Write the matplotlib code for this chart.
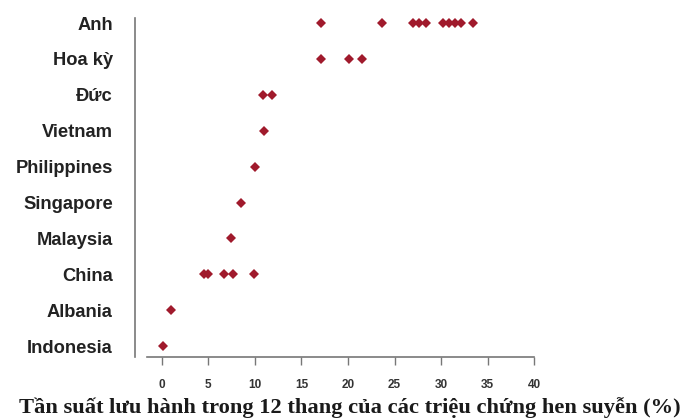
import matplotlib
matplotlib.use("Agg")
import matplotlib.pyplot as plt

countries = ["Anh", "Hoa kỳ", "Đức", "Vietnam", "Philippines", "Singapore",
             "Malaysia", "China", "Albania", "Indonesia"]
values = [
    [17.1, 23.7, 27.0, 27.6, 28.4, 30.2, 30.8, 31.5, 32.1, 33.4],  # Anh
    [17.1, 20.1, 21.5],                                            # Hoa kỳ
    [10.9, 11.9],                                                  # Đức
    [11.0],                                                        # Vietnam
    [10.0],                                                        # Philippines
    [8.5],                                                         # Singapore
    [7.5],                                                         # Malaysia
    [4.6, 5.0, 6.7, 7.7, 9.9],                                     # China
    [1.0],                                                         # Albania
    [0.2],                                                         # Indonesia
]
xticks = [0, 5, 10, 15, 20, 25, 30, 35, 40]
xlabel = "Tần suất lưu hành trong 12 thang của các triệu chứng hen suyễn (%)"

fig = plt.figure(figsize=(6.83, 4.19), dpi=100)
ax = fig.add_axes([135/683, 1-357/419, 405/683, (357-18)/419])

for i, vals in enumerate(values):
    ax.plot(vals, [i]*len(vals), linestyle="none", marker="D", markersize=5.6,
            color="#A01A2C", markeredgewidth=0)

ax.set_xlim(-2.85, 40.6)
ax.set_ylim(9.30, -0.14)
ax.set_yticks(range(len(countries)))
ax.set_yticklabels(countries, fontsize=13.2, fontweight="bold",
                   family="Liberation Sans", color="#222222")
ax.set_xticks(xticks)
ax.set_xticklabels([str(t) for t in xticks], fontsize=8.5, fontweight="bold",
                   family="Liberation Sans", color="#333333")

for s in ["top", "right"]:
    ax.spines[s].set_visible(False)
ax.spines["left"].set_color("#777777")
ax.spines["left"].set_linewidth(1.2)
ax.spines["bottom"].set_color("#777777")
ax.spines["bottom"].set_linewidth(1.2)
ax.spines["bottom"].set_bounds(-1.6, 40)

ax.tick_params(axis="y", length=0, pad=16)
ax.tick_params(axis="x", direction="out", length=6, width=1.0,
               color="#777777", pad=10)

fig.text(350/683, 1-408/419, xlabel, ha="center", va="center",
         fontsize=16.2, fontweight="bold", family="Liberation Serif",
         color="#1a1a1a")

fig.savefig("out.png", dpi=100, facecolor="white")
